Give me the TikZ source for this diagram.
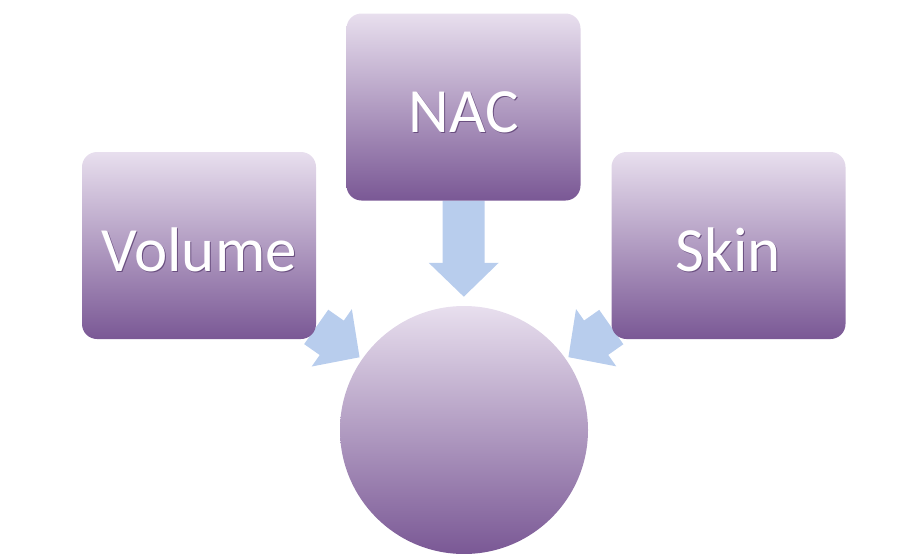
\documentclass[tikz,border=0pt]{standalone}
\usepackage{fontspec}
\setmainfont{Carlito}
\usetikzlibrary{arrows.meta,backgrounds}
\definecolor{lilactop}{HTML}{E8DFEE}
\definecolor{lilacbot}{HTML}{7A5895}
\definecolor{arrowblue}{HTML}{B8CDED}
\definecolor{txtshade}{HTML}{6A4F80}
\newcommand{\boxtext}[1]{\makebox[0pt][l]{\hspace{1pt}\raisebox{-1pt}{\color{txtshade}#1}}#1}

\begin{document}
\begin{tikzpicture}[x=1pt,y=-1pt,
	box/.style={rounded corners=15pt,minimum width=234pt,minimum height=187pt,top color=lilactop,bottom color=lilacbot,text=white,text height=51pt,text depth=0pt,font=\fontsize{63}{70}\selectfont},
	flow/.style={line width=42pt,arrowblue,-{Triangle[width=68pt,length=34pt]}}]
			\useasboundingbox (0,0) rectangle (913,554);
			\node[box] (nac) at (463.5,107) {\boxtext{NAC}};
			\node[box] (volume) at (199,245.5) {\boxtext{Volume}};
			\node[box] (skin) at (728.5,245.5) {\boxtext{Skin}};
			\node[circle,minimum size=248pt,top color=lilactop,bottom color=lilacbot] (hub) at (464,430) {};
			\begin{pgfonlayer}{background}
				\draw[flow,shorten >=9pt] (nac) -- (hub);
				\draw[flow,shorten >=3pt] (volume) -- (hub);
				\draw[flow,shorten >=3pt] (skin) -- (hub);
			\end{pgfonlayer}
		\end{tikzpicture}
\end{document}
